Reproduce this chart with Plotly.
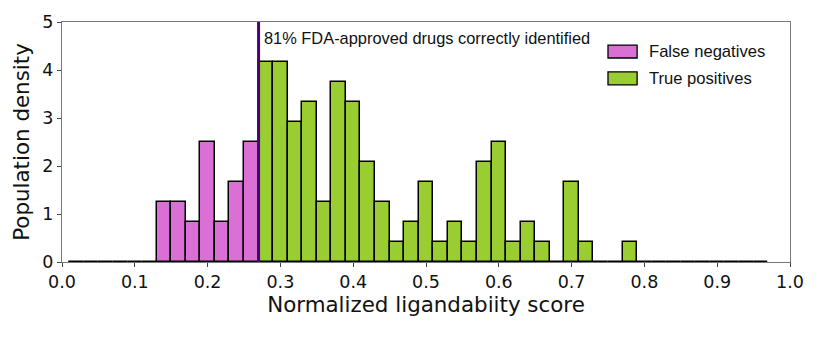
import plotly.graph_objects as go

# ---- data ----
bin_width = 0.02
fn_left_edges = [0.01, 0.03, 0.05, 0.07, 0.09, 0.11, 0.13, 0.15, 0.17, 0.19, 0.21, 0.23, 0.25]
fn_density = [0, 0, 0, 0, 0, 0, 1.25, 1.25, 0.83, 2.5, 0.83, 1.67, 2.5]

tp_left_edges = [0.27, 0.29, 0.31, 0.33, 0.35, 0.37, 0.39, 0.41, 0.43, 0.45,
                 0.47, 0.49, 0.51, 0.53, 0.55, 0.57, 0.59, 0.61, 0.63, 0.65,
                 0.67, 0.69, 0.71, 0.73, 0.75, 0.77, 0.79, 0.81, 0.83, 0.85,
                 0.87, 0.89, 0.91, 0.93, 0.95]
tp_density = [4.17, 4.17, 2.92, 3.33, 1.25, 3.75, 3.33, 2.08, 1.25, 0.42,
              0.83, 1.67, 0.42, 0.83, 0.42, 2.08, 2.5, 0.42, 0.83, 0.42,
              0, 1.67, 0.42, 0, 0, 0.42, 0, 0, 0, 0,
              0, 0, 0, 0, 0]

threshold = 0.27
annotation_text = "81% FDA-approved drugs correctly identified"
series_names = ["False negatives", "True positives"]
x_ticks = [0.0, 0.1, 0.2, 0.3, 0.4, 0.5, 0.6, 0.7, 0.8, 0.9, 1.0]
y_ticks = [0, 1, 2, 3, 4, 5]

pink = "#DA70D6"
green = "#9ACD32"
indigo = "#4B0082"

fig = go.Figure()
for edges, dens, color, name in [(fn_left_edges, fn_density, pink, series_names[0]),
                                 (tp_left_edges, tp_density, green, series_names[1])]:
    fig.add_trace(go.Bar(
        x=[e + bin_width / 2 for e in edges], y=dens, width=bin_width,
        marker=dict(color=color, line=dict(color="black", width=1.5)),
        name=name, showlegend=False))

fig.add_shape(type="line", x0=threshold, x1=threshold, y0=0, y1=1,
              xref="x", yref="y domain", line=dict(color=indigo, width=3))

fig.add_annotation(x=threshold, y=0.933, xref="x", yref="y domain", text=annotation_text,
                   showarrow=False, xanchor="left", yanchor="middle", xshift=3,
                   font=dict(family="Liberation Sans, Arial", size=16.4, color="#111"))

# legend drawn as swatches + labels
legend_x0, legend_y = 0.75, [0.877, 0.765]
for i, (name, color) in enumerate(zip(series_names, [pink, green])):
    fig.add_shape(type="rect", xref="paper", yref="paper",
                  x0=legend_x0, x1=legend_x0 + 0.04,
                  y0=legend_y[i] - 0.027, y1=legend_y[i] + 0.027,
                  fillcolor=color, line=dict(color="black", width=1.3))
    fig.add_annotation(xref="paper", yref="paper", x=legend_x0 + 0.053, y=legend_y[i],
                       text=name, showarrow=False, xanchor="left", yanchor="middle",
                       font=dict(family="Liberation Sans, Arial", size=16.6, color="#111"))

fig.update_layout(
    width=825, height=339,
    margin=dict(l=62, r=35, t=22, b=77),
    plot_bgcolor="white", paper_bgcolor="white",
    bargap=0, showlegend=False,
    font=dict(family="DejaVu Sans", color="#111"),
)
fig.update_xaxes(range=[0, 1], tickvals=x_ticks, tickformat=".1f",
                 ticks="outside", ticklen=4, tickcolor="#444",
                 showline=True, linecolor="#777", linewidth=1.2, mirror=True,
                 showgrid=False, zeroline=False,
                 tickfont=dict(size=17.5, family="DejaVu Sans"),
                 title=dict(text="Normalized ligandabiity score",
                            font=dict(size=21.4, family="DejaVu Sans"), standoff=4))
fig.update_yaxes(range=[0, 5], tickvals=y_ticks,
                 ticks="outside", ticklen=4, tickcolor="#444",
                 showline=True, linecolor="#777", linewidth=1.2, mirror=True,
                 showgrid=False, zeroline=False,
                 tickfont=dict(size=17.5, family="DejaVu Sans"),
                 title=dict(text="Population density",
                            font=dict(size=21.4, family="DejaVu Sans"), standoff=6))

fig.write_html("out.html")
